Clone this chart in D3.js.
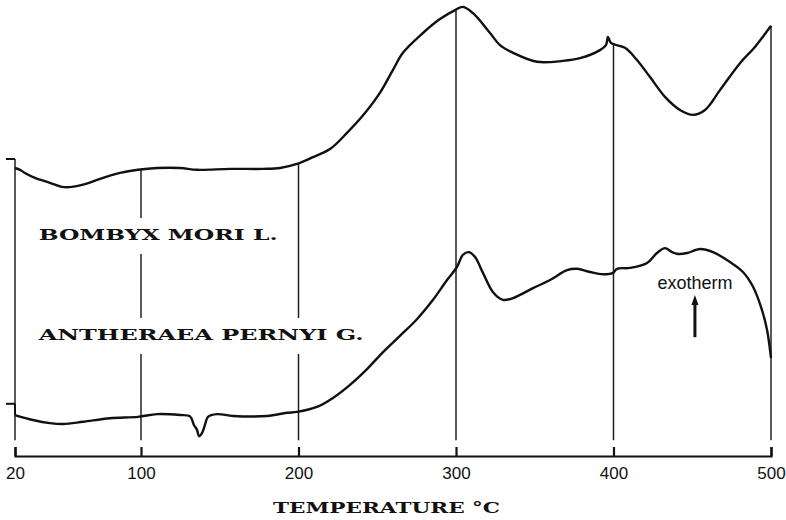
<!DOCTYPE html>
<meta charset="utf-8">
<head>
  <title>DTA silk fibroin</title>
</head>
<style>
body { margin: 0; background: #fff; }
.curve { fill: none; stroke: #111; stroke-width: 2.4px; stroke-linejoin: round; }
.grid { stroke: #222; stroke-width: 1.5px; }
.mark { stroke: #111; stroke-width: 2px; }
.axis path, .axis line { stroke: #111; stroke-width: 2.2px; }
.axis text { font-family: "Liberation Sans", Arial, sans-serif; font-size: 17px; fill: #111; }
.species { font-family: "DejaVu Serif", serif; font-weight: bold; font-size: 15px; fill: #111; }
</style>
<body>
  <svg width="786" height="520"></svg>
  <script src="https://cdnjs.cloudflare.com/ajax/libs/d3/7.8.5/d3.min.js"></script>
  <script>
// tick labels / grid temperatures (deg C)
var temps = [20, 100, 200, 300, 400, 500];

// Bombyx mori L. (upper trace), temperature and signal (arbitrary units)
var bombyxT = [20, 23.2, 26.3, 32.7, 42.2, 49.8, 56.2, 64.4, 74.0, 86.7, 98.1, 110.2, 124.8, 135.6,
  156.5, 177.5, 188.3, 199.0, 209.2, 220.0, 230.8, 242.2, 251.7, 260.0, 266.3, 279.0, 289.8, 299.4,
  304.4, 310.8, 321.6, 327.9, 336.2, 351.4, 367.9, 378.7, 391.4, 395.2, 396.5, 398.4, 407.3, 414.9,
  423.2, 432.7, 442.2, 450.5, 458.1, 467.6, 480.3, 489.8, 500];
var bombyxV = [64.0, 63.6, 62.9, 61.8, 60.7, 59.8, 59.8, 60.4, 61.6, 62.9, 63.6, 64.0, 64.0, 63.6,
  63.8, 63.8, 64.0, 64.9, 66.4, 68.2, 71.8, 76.2, 80.7, 85.8, 89.6, 94.0, 97.1, 99.1,
  99.8, 98.4, 94.0, 91.3, 89.6, 87.6, 87.8, 88.4, 90.2, 91.3, 93.1, 91.8, 90.7, 88.0,
  84.2, 79.8, 76.9, 75.8, 76.9, 81.3, 87.3, 90.9, 95.6];

// Antheraea pernyi G. (lower trace)
var pernyiT = [20, 31.4, 42.2, 50.5, 63.2, 80.3, 98.1, 110.2, 124.8, 131.1, 133.6, 135.6, 136.8,
  138.7, 140.6, 142.5, 148.3, 158.4, 180.0, 192.7, 199.0, 211.7, 221.9, 232.7, 243.5, 253.7, 264.4,
  275.2, 285.4, 294.3, 300.6, 304.4, 308.3, 312.1, 317.1, 323.5, 329.8, 336.2, 348.9, 359.7, 370.5,
  376.8, 385.1, 393.3, 399.7, 402.2, 410.5, 421.3, 427.6, 432.7, 437.1, 441.0, 446.7, 455.0, 463.2,
  474.0, 482.2, 488.6, 494.3, 497.5, 500];
var pernyiV = [9.1, 8.0, 7.3, 7.1, 7.6, 8.4, 8.7, 9.3, 9.1, 8.8, 6.9, 5.8, 4.4,
  5.1, 6.9, 8.7, 9.3, 8.9, 8.9, 9.6, 9.8, 10.9, 12.9, 15.8, 19.3, 23.1, 26.7,
  30.4, 34.7, 39.1, 42.0, 44.7, 45.3, 44.2, 40.7, 36.4, 34.7, 35.1, 37.3, 39.1, 41.3,
  41.6, 40.9, 40.4, 40.7, 41.6, 41.8, 42.9, 45.1, 46.2, 45.3, 44.9, 45.1, 46.0, 45.3,
  43.1, 40.9, 37.6, 32.4, 28.0, 21.8];

// zero marks at the start of each trace
var startMarks = [66.0, 11.6];
var gridBottom = 3.5;

var svg = d3.select('svg');
var x = d3.scaleLinear().domain([20, 500]).range([15, 771]);
var y = d3.scaleLinear().domain([0, 100]).range([456, 6]);

var upper = bombyxT.map(function(t, i) { return [t, bombyxV[i]]; });
var lower = pernyiT.map(function(t, i) { return [t, pernyiV[i]]; });

// value of upper trace at t, for the top end of the grid lines
function upperAt(t) {
  var i = d3.bisector(function(d) { return d[0]; }).left(upper, t);
  if (i <= 0) return Math.max(upper[0][1], startMarks[0]);
  if (i >= upper.length) return upper[upper.length - 1][1];
  var a = upper[i - 1], b = upper[i];
  return a[1] + (b[1] - a[1]) * (t - a[0]) / (b[0] - a[0]);
}

// vertical grid lines
svg.append('g').selectAll('line.grid')
  .data(temps)
  .enter()
  .append('line')
  .classed('grid', true)
  .attr('x1', function(d) { return x(d); })
  .attr('x2', function(d) { return x(d); })
  .attr('y1', function(d) { return y(upperAt(d)); })
  .attr('y2', y(gridBottom));

// species labels, white box cuts the grid lines like in the original
var labels = [
  { text: 'BOMBYX MORI L.', t: 35, v: 48, len: 239 },
  { text: 'ANTHERAEA PERNYI G.', t: 35, v: 25.8, len: 325 }
];
var lab = svg.append('g').selectAll('g').data(labels).enter().append('g');
lab.append('rect')
  .attr('x', function(d) { return x(d.t) - 2; })
  .attr('y', function(d) { return y(d.v) - 22; })
  .attr('width', function(d) { return d.len + 4; })
  .attr('height', 36)
  .attr('fill', '#fff');
lab.append('text')
  .classed('species', true)
  .attr('x', function(d) { return x(d.t); })
  .attr('y', function(d) { return y(d.v); })
  .attr('textLength', function(d) { return d.len; })
  .attr('lengthAdjust', 'spacingAndGlyphs')
  .text(function(d) { return d.text; });

// traces
var line = d3.line()
  .x(function(d) { return x(d[0]); })
  .y(function(d) { return y(d[1]); })
  .curve(d3.curveCatmullRom.alpha(0.5));

svg.append('g').selectAll('path.curve')
  .data([upper, lower])
  .enter()
  .append('path')
  .classed('curve', true)
  .attr('d', line);

// short start marks left of the 20 line
svg.append('g').selectAll('line.mark')
  .data(startMarks)
  .enter()
  .append('line')
  .classed('mark', true)
  .attr('x1', x(20) - 9)
  .attr('x2', x(20))
  .attr('y1', function(d) { return y(d); })
  .attr('y2', function(d) { return y(d); });
svg.append('line').classed('mark', true)
  .attr('x1', x(20)).attr('x2', x(20))
  .attr('y1', y(startMarks[1])).attr('y2', y(pernyiV[0]));

// x axis, ticks pointing up
var axis = d3.axisBottom(x)
  .tickValues(temps)
  .tickSize(-9)
  .tickSizeOuter(-9)
  .tickPadding(11)
  .tickFormat(d3.format('d'));
svg.append('g')
  .attr('class', 'axis')
  .attr('transform', 'translate(0,' + y(0) + ')')
  .call(axis)
  .call(function(g) { g.selectAll('text').attr('fill', '#111'); });

svg.append('text')
  .classed('species', true)
  .attr('x', 273)
  .attr('y', 513)
  .attr('textLength', 227)
  .attr('lengthAdjust', 'spacingAndGlyphs')
  .style('font-size', '14px')
  .text('TEMPERATURE \u00b0C');

// exotherm arrow
var arrowT = 451.7, arrowFrom = 26.4, arrowTo = 35.8;
svg.append('line')
  .attr('x1', x(arrowT)).attr('x2', x(arrowT))
  .attr('y1', y(arrowFrom)).attr('y2', y(arrowTo) + 6)
  .attr('stroke', '#111').attr('stroke-width', 3);
svg.append('path')
  .attr('d', 'M' + (x(arrowT) - 3.5) + ',' + (y(arrowTo) + 10) + 'L' + x(arrowT) + ',' + y(arrowTo) +
    'L' + (x(arrowT) + 3.5) + ',' + (y(arrowTo) + 10) + 'Z')
  .attr('fill', '#111');
svg.append('text')
  .attr('x', x(arrowT))
  .attr('y', y(37.1))
  .attr('text-anchor', 'middle')
  .style('font-family', '"Liberation Sans", Arial, sans-serif')
  .style('font-size', '18px')
  .attr('fill', '#111')
  .text('exotherm');
  </script>
</body>
